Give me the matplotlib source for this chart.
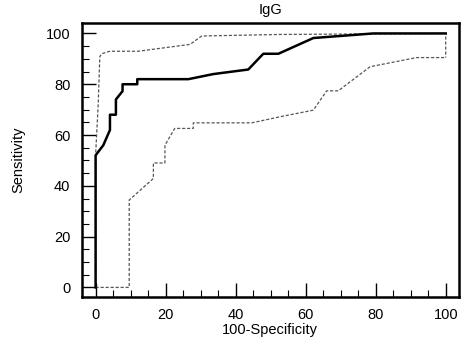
import numpy as np
import matplotlib.pyplot as plt
from matplotlib.ticker import MultipleLocator

plt.rcParams['font.family'] = ['Liberation Sans', 'DejaVu Sans']

# ROC curve (solid)
roc_x = [0, 0, 2.2, 4.1, 4.1, 5.8, 5.8, 7.7, 7.7, 11.9, 11.9, 26.5, 33.6, 43.6, 47.9, 52.2, 62.2, 79.3, 100]
roc_y = [0, 52, 56, 62, 68, 68, 74, 77.3, 80, 80, 82, 82, 84, 85.8, 92, 92, 98.2, 100, 100]

# confidence band, upper (dashed)
up_x = [0, 0, 0.75, 1.2, 1.7, 4.1, 12.2, 27, 30.3, 52.6, 100, 100]
up_y = [0, 52, 72.4, 90.8, 92, 93, 93, 95.7, 99, 99.6, 100, 90.5]

# confidence band, lower (dashed)
lo_x = [0, 9.6, 9.6, 16.5, 16.5, 19.8, 19.8, 22.6, 27.9, 27.9, 44.6, 52.7, 62.2, 66, 69.3, 78.4, 91.7, 100]
lo_y = [0, 0, 34.4, 42.9, 49, 49, 56, 62.6, 62.6, 64.8, 64.8, 67.2, 69.8, 77.4, 77.4, 86.9, 90.5, 90.5]

fig = plt.figure(figsize=(4.61, 3.4), dpi=100)
ax = fig.add_axes([0.177, 0.127, 0.8187, 0.806])

ax.plot(up_x, up_y, '--', color='#555555', lw=0.9, dashes=(2.5, 1.5))
ax.plot(lo_x, lo_y, '--', color='#555555', lw=0.9, dashes=(2.5, 1.5))
ax.plot(roc_x, roc_y, '-', color='black', lw=1.8)

ax.set_xlim(-4, 103.8)
ax.set_ylim(-3.7, 104.2)
ax.xaxis.set_major_locator(MultipleLocator(20))
ax.xaxis.set_minor_locator(MultipleLocator(5))
ax.yaxis.set_major_locator(MultipleLocator(20))
ax.yaxis.set_minor_locator(MultipleLocator(5))
ax.tick_params(which='major', direction='in', length=10, width=1, labelsize=10.5)
ax.tick_params(which='minor', direction='in', length=5, width=0.8)
ax.tick_params(axis='x', pad=8)
ax.tick_params(axis='y', pad=8)
for s in ax.spines.values():
    s.set_linewidth(1.8)

ax.set_title('IgG', fontsize=10.5, pad=6)
ax.set_xlabel('100-Specificity', fontsize=10.5, labelpad=1)
ax.set_ylabel('Sensitivity', fontsize=10.5, labelpad=15)

plt.savefig('out.png', dpi=100)
